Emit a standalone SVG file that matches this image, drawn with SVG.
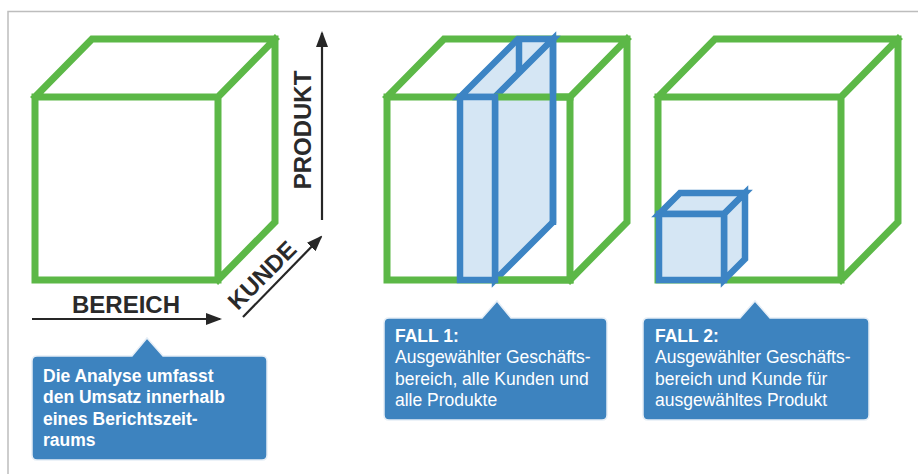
<svg xmlns="http://www.w3.org/2000/svg" width="918" height="474" viewBox="0 0 918 474">
  <defs>
    <style>
      .green { fill: none; stroke: #5cb847; stroke-width: 7; stroke-linejoin: miter; stroke-linecap: square; }
      .blue { fill: #d5e6f4; stroke: #3c84c4; stroke-width: 6.5; stroke-linejoin: miter; }
      .bline { fill: none; stroke: #3c84c4; stroke-width: 6.5; stroke-linecap: butt; }
      .axis { fill: none; stroke: #262626; stroke-width: 2.2; marker-end: url(#ah); }
      .axislabel { font-family: "Liberation Sans", Arial, sans-serif; font-weight: bold; font-size: 24px; fill: #2a2a2a; }
      .callout { fill: #3d83bf; stroke: #e6eef6; stroke-width: 1.5; }
      .ctext { font-family: "Liberation Sans", Arial, sans-serif; font-size: 17.5px; fill: #ffffff; }
      .bold { font-weight: bold; }
    </style>
    <marker id="ah" markerWidth="16" markerHeight="12" refX="14" refY="6" orient="auto" markerUnits="userSpaceOnUse">
      <path d="M0,0 L16,6 L0,12 Z" fill="#262626"/>
    </marker>
    <path id="cube" d="M0,0 H183 V183 H0 Z M0,0 L57,-58 H240 V125 L183,183 M183,0 L240,-58"/>
  </defs>

  <rect x="0" y="0" width="918" height="474" fill="#ffffff"/>
  <path d="M8,474 V11.5 H918" fill="none" stroke="#bdbdbd" stroke-width="1.5"/>

  <!-- Cube 1 -->
  <g id="cube-overview">
    <use href="#cube" class="green" transform="translate(35,97)"/>
  </g>

  <!-- Axes -->
  <g id="connectors">
    <line class="axis" x1="32" y1="319" x2="220" y2="319"/>
    <line class="axis" x1="322" y1="220" x2="322" y2="33"/>
    <line class="axis" x1="243" y1="317" x2="321" y2="237"/>
  </g>
  <g id="axis-bereich">
    <text class="axislabel" x="126" y="313" text-anchor="middle">BEREICH</text>
  </g>
  <g id="axis-produkt">
    <text class="axislabel" transform="translate(311,130) rotate(-90)" text-anchor="middle">PRODUKT</text>
  </g>
  <g id="axis-kunde">
    <text class="axislabel" transform="translate(268,281) rotate(-45)" text-anchor="middle">KUNDE</text>
  </g>

  <!-- Cube 2 with slab -->
  <g id="cube-fall1">
    <use href="#cube" class="green" transform="translate(387,97)"/>
    <polygon class="blue" points="460,97 518,39 553,39 495,97"/>
    <polygon class="blue" points="495,97 553,39 553,222 495,280"/>
    <line class="green" x1="498" y1="97" x2="570" y2="97" stroke-linecap="butt"/>
    <line class="green" x1="498" y1="280" x2="570" y2="280" stroke-linecap="butt"/>
    <line class="bline" x1="553" y1="36" x2="553" y2="225"/>
    <line class="bline" x1="519" y1="39" x2="519" y2="74"/>
    <rect x="460" y="97" width="35" height="183" fill="#d5e6f4"/>
    <line class="bline" x1="460" y1="280" x2="495" y2="245"/>
    <rect class="blue" x="460" y="97" width="35" height="183" fill="none"/>
  </g>

  <!-- Cube 3 with small cube -->
  <g id="cube-fall2">
    <use href="#cube" class="green" transform="translate(658,97)"/>
    <polygon class="blue" points="659,214 680,193 745,193 724,214"/>
    <polygon class="blue" points="724,214 745,193 745,259 724,280"/>
    <rect class="blue" x="659" y="214" width="65" height="66"/>
  </g>

  <!-- Callouts -->
  <g id="callout-analyse">
    <path class="callout" d="M37,356 H132 L147,338 L163,356 H262 Q267,356 267,361 V455 Q267,460 262,460 H37 Q32,460 32,455 V361 Q32,356 37,356 Z"/>
    <text class="ctext bold" font-size="18.5">
      <tspan x="43" y="382">Die Analyse umfasst</tspan>
      <tspan x="43" y="403">den Umsatz innerhalb</tspan>
      <tspan x="43" y="425">eines Berichtszeit-</tspan>
      <tspan x="43" y="446">raums</tspan>
    </text>
  </g>

  <g id="callout-fall1">
    <path class="callout" d="M389,318 H482 L497,301 L511,318 H602 Q607,318 607,323 V415 Q607,420 602,420 H389 Q384,420 384,415 V323 Q384,318 389,318 Z"/>
    <text class="ctext">
      <tspan class="bold" x="395" y="342">FALL 1:</tspan>
      <tspan x="395" y="363">Ausgewählter Geschäfts-</tspan>
      <tspan x="395" y="385">bereich, alle Kunden und</tspan>
      <tspan x="395" y="406">alle Produkte</tspan>
    </text>
  </g>

  <g id="callout-fall2">
    <path class="callout" d="M648,318 H740 L755,301 L770,318 H864 Q869,318 869,323 V415 Q869,420 864,420 H648 Q643,420 643,415 V323 Q643,318 648,318 Z"/>
    <text class="ctext">
      <tspan class="bold" x="655" y="342">FALL 2:</tspan>
      <tspan x="655" y="363">Ausgewählter Geschäfts-</tspan>
      <tspan x="655" y="385">bereich und Kunde für</tspan>
      <tspan x="655" y="406">ausgewähltes Produkt</tspan>
    </text>
  </g>
</svg>
